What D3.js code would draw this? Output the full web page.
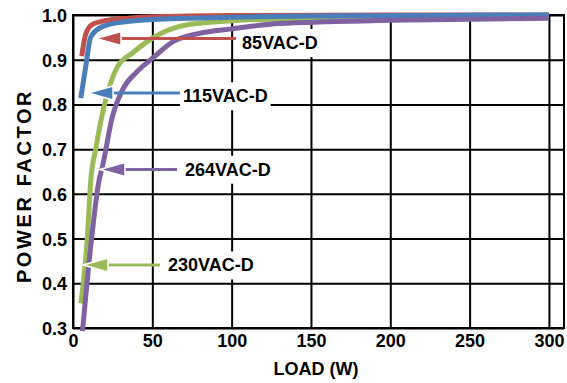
<!DOCTYPE html>
<html>
<head>
<meta charset="utf-8">
<script src="https://cdn.jsdelivr.net/npm/d3@7.9.0/dist/d3.min.js"></script>
<style>
  body { margin: 0; background: #fff; }
  svg { display: block; font-family: "Liberation Sans", Arial, sans-serif; font-weight: bold; }
</style>
</head>
<body>
<svg id="chart" width="567" height="383"></svg>
<script>
// --- Data (load in W, power factor) ---
const xTicks = [0, 50, 100, 150, 200, 250, 300];
const yTicks = [0.3, 0.4, 0.5, 0.6, 0.7, 0.8, 0.9, 1.0];

const pf85 = [[5.5, 0.908], [8, 0.957], [12.2, 0.979], [20, 0.987], [35, 0.993], [50, 0.996], [100, 0.999], [200, 1.0], [300, 1.0]];
const pf115 = [[4.9, 0.814], [8, 0.884], [11.2, 0.951], [18.5, 0.974], [33, 0.985], [50, 0.990], [100, 0.995], [150, 0.998], [300, 1.0]];
const pf230 = [[5, 0.355], [9, 0.5], [11.2, 0.63], [14.3, 0.70], [20.6, 0.81], [28, 0.884], [37.5, 0.915], [50, 0.948], [69, 0.976], [100, 0.987], [150, 0.993], [200, 0.995], [300, 0.997]];
const pf264 = [[6, 0.293], [11.7, 0.5], [16.4, 0.63], [18.5, 0.66], [24.8, 0.772], [31.1, 0.832], [40, 0.872], [50, 0.903], [62.8, 0.94], [79.6, 0.959], [100, 0.969], [130, 0.981], [200, 0.988], [300, 0.993]];

// draw order: red, green, blue, purple
const seriesData = [pf85, pf230, pf115, pf264];
const seriesColors = ['#c0504d', '#9bbb59', '#4a7ebb', '#7f62a1'];

// annotation arrows: tip load, tail load, pf of arrow, label load, label pf
const annoNames = ['85VAC-D', '115VAC-D', '264VAC-D', '230VAC-D'];
const annoTip = [14.5, 9.5, 17.0, 6.3];
const annoTail = [102.7, 67.4, 65.6, 54.8];
const annoY = [0.9474, 0.8256, 0.6545, 0.4409];
const labelX = [106.5, 69.3, 70.6, 59.9];
const labelY = [0.9374, 0.8182, 0.654, 0.4398];
const annoColors = ['#c0504d', '#4a7ebb', '#7f62a1', '#9bbb59'];

// --- Layout ---
const plotL = 73, plotR = 564, plotT = 15, plotB = 328;
const x = d3.scaleLinear().domain([0, 309.5]).range([plotL, plotR]);
const y = d3.scaleLinear().domain([0.3, 1.0]).range([plotB, plotT]);

const svg = d3.select('#chart');
svg.append('rect').attr('width', 567).attr('height', 383).attr('fill', '#fff');

// gridlines + tick labels
const gy = svg.append('g')
  .attr('transform', `translate(${plotL},0)`)
  .call(d3.axisLeft(y).tickValues(yTicks).tickSize(-(plotR - plotL)).tickPadding(6).tickFormat(d3.format('.1f')));
const gx = svg.append('g')
  .attr('transform', `translate(0,${plotB})`)
  .call(d3.axisBottom(x).tickValues(xTicks).tickSize(-(plotB - plotT)).tickPadding(6));

[gx, gy].forEach(g => {
  g.select('.domain').remove();
  g.selectAll('.tick line').attr('stroke', '#000').attr('stroke-width', 2);
  g.selectAll('.tick text').attr('fill', '#000').style('font-size', '18px').style('font-weight', 'bold')
    .style('font-family', '"Liberation Sans", Arial, sans-serif');
});
gy.selectAll('.tick text').attr('dy', '0.36em');

svg.append('rect')
  .attr('x', plotL).attr('y', plotT)
  .attr('width', plotR - plotL).attr('height', plotB - plotT)
  .attr('fill', 'none').attr('stroke', '#000').attr('stroke-width', 2);

// axis titles
svg.append('text')
  .attr('x', 316).attr('y', 375)
  .attr('text-anchor', 'middle')
  .style('font-size', '18px')
  .text('LOAD (W)');

svg.append('text')
  .attr('transform', 'translate(31,186) rotate(-90)')
  .attr('text-anchor', 'middle')
  .style('font-size', '20px')
  .style('letter-spacing', '2.6px')
  .text('POWER FACTOR');

// label texts
const labels = svg.append('g');
const labelTexts = labels.selectAll('text')
  .data(annoNames)
  .join('text')
  .attr('x', (d, i) => x(labelX[i]))
  .attr('y', (d, i) => y(labelY[i]))
  .attr('dominant-baseline', 'central')
  .style('font-size', '18px')
  .attr('fill', '#000')
  .text(d => d);

// white boxes behind labels hide the gridlines
const boxes = svg.insert('g', () => labels.node());
labelTexts.each(function () {
  const b = this.getBBox();
  boxes.append('rect')
    .attr('x', b.x - 3).attr('y', b.y - 4)
    .attr('width', b.width + 6).attr('height', b.height + 8)
    .attr('fill', '#fff');
});

// curves
const line = d3.line()
  .x(d => x(d[0]))
  .y(d => y(d[1]))
  .curve(d3.curveMonotoneX);

const curves = svg.insert('g', () => labels.node());
curves.selectAll('path')
  .data(seriesData)
  .join('path')
  .attr('d', line)
  .attr('fill', 'none')
  .attr('stroke', (d, i) => seriesColors[i])
  .attr('stroke-width', 5)
  .attr('stroke-linejoin', 'round');

// arrows
const arrows = svg.insert('g', () => labels.node());
annoNames.forEach((name, i) => {
  const tx = x(annoTip[i]), ty = y(annoY[i]);
  const headLen = 25, headHalf = 7;
  arrows.append('line')
    .attr('x1', tx + headLen - 2).attr('y1', ty)
    .attr('x2', x(annoTail[i])).attr('y2', ty)
    .attr('stroke', annoColors[i]).attr('stroke-width', 3);
  arrows.append('path')
    .attr('d', `M${tx},${ty}L${tx + headLen},${ty - headHalf}L${tx + headLen},${ty + headHalf}Z`)
    .attr('fill', annoColors[i])
    .attr('stroke', '#fff').attr('stroke-width', 1.5).attr('stroke-linejoin', 'miter');
});
</script>
</body>
</html>
